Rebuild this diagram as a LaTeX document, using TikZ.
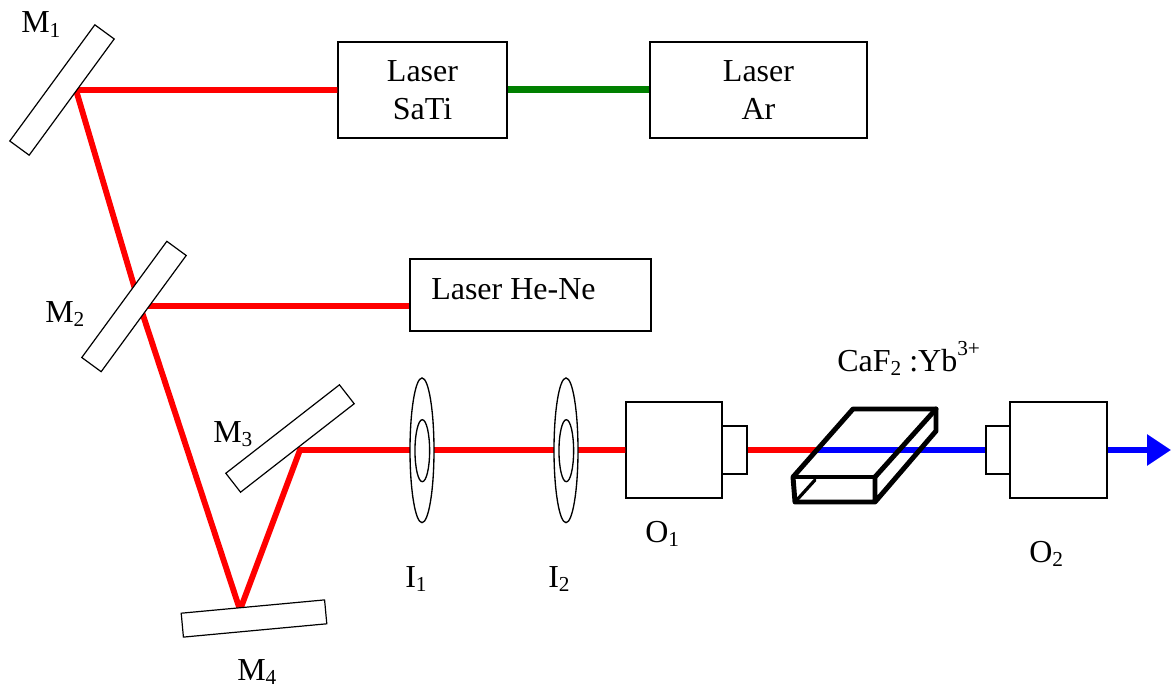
\documentclass[tikz,border=0pt]{standalone}
\usepackage{fontspec}
\setmainfont{Liberation Serif}
\usetikzlibrary{arrows.meta,shapes.geometric}
\newcommand{\lowsub}[1]{\raisebox{-0.13em}{\fontsize{16}{16}\selectfont #1}}
\newcommand{\highsup}[1]{\raisebox{0.5em}{\fontsize{16}{16}\selectfont #1}}
\tikzset{
  x=0.75pt,y=-0.75pt,
  beam/.style={line width=4.4pt},
  redbeam/.style={beam,draw={rgb,255:red,255;green,0;blue,0}},
  bluebeam/.style={beam,draw={rgb,255:red,0;green,0;blue,255}},
  greenbeam/.style={line width=5.25pt,draw={rgb,255:red,0;green,128;blue,0}},
  box/.style={draw=black,fill=white,line width=0.9pt,minimum width=0pt,minimum height=0pt,inner sep=0pt},
  mirror/.style={box,minimum width=108pt,minimum height=18pt},
  lensout/.style={ellipse,draw=black,fill=white,line width=1pt,minimum width=18pt,minimum height=108.5pt,inner sep=0pt},
  lensin/.style={ellipse,draw=black,fill=white,line width=1pt,minimum width=11pt,minimum height=46.5pt,inner sep=0pt},
  lab/.style={anchor=base west,inner sep=0pt,font=\fontsize{24}{24}\selectfont},
  labc/.style={anchor=base,inner sep=0pt,font=\fontsize{24}{24}\selectfont},
  crystal/.style={draw=black,line width=3.7pt,line cap=round,line join=round},
  crystalthin/.style={draw=black,line width=2.4pt,line cap=round}
}
\begin{document}
\begin{tikzpicture}
\useasboundingbox (0,0) rectangle (1171,688);
% reflection points
\coordinate (p1) at (76,90);
\coordinate (p2) at (140,306);
\coordinate (p4) at (240,610);
\coordinate (p3) at (300,450);
\coordinate (cut) at (816,450);
\coordinate (tip) at (1171,450);
% boxes
\node[box,minimum width=126.75pt,minimum height=72pt] (sati) at (422.5,90) {};
\node[box,minimum width=162.75pt,minimum height=72pt] (ar) at (758.5,90) {};
\node[box,minimum width=180.75pt,minimum height=54pt] (hene) at (530.5,295) {};
\node[box,minimum width=72pt,minimum height=72pt] (o1) at (674,450) {};
\node[box,minimum width=18.75pt,minimum height=36pt] (o1f) at (734.5,450) {};
\node[box,minimum width=72.75pt,minimum height=72pt] (o2) at (1058.5,450) {};
\node[box,minimum width=18pt,minimum height=36pt] (o2f) at (998,450) {};
% beams
\draw[greenbeam] (sati.east) -- (ar.west);
\draw[redbeam] (sati.west) -- (p1) -- (p2) -- (p4) -- (p3) -- (o1.west);
\draw[redbeam] (p2 -| hene.west) -- (p2);
\draw[redbeam] (o1f.east) -- (cut);
\draw[bluebeam] (cut) -- (o2f.west);
\draw[bluebeam,-{Triangle[length=18pt,width=22.5pt]}] (o2.east) -- (tip);
% optics on top of the beams
\node[mirror,rotate=53.8] (m1) at (62,90) {};
\node[mirror,rotate=53.8] (m2) at (134,306.5) {};
\node[mirror,rotate=37.9] (m3) at (290,438.5) {};
\node[mirror,rotate=5.3] (m4) at (254,618.5) {};
\node[lensout] (i1) at (422,450.3) {};
\node[lensin] (i1c) at (422.3,450.7) {};
\node[lensout] (i2) at (566,450.3) {};
\node[lensin] (i2c) at (566.3,450.7) {};
% crystal
\coordinate (a) at (793,477);
\coordinate (b) at (875,477);
\coordinate (c) at (875,502);
\coordinate (d) at (795,502);
\coordinate (e) at (853,409);
\coordinate (f) at (936,409);
\coordinate (g) at (936,431);
\coordinate (h) at (815,480);
\draw[crystalthin] (d) -- (h);
\draw[crystalthin] (a) -- (b);
\draw[crystal] (b) -- (c) -- (d) -- (a) -- (e) -- (f) -- (g) -- (c);
\draw[crystal] (b) -- (f);
% labels
\node[lab] (lm1) at (21,33) {M\lowsub{1}};
\node[lab] (lm2) at (45,322) {M\lowsub{2}};
\node[lab] (lm3) at (213,442) {M\lowsub{3}};
\node[lab] (lm4) at (237,680) {M\lowsub{4}};
\node[lab] (li1) at (405,587) {I\lowsub{1}};
\node[lab] (li2) at (548,587) {I\lowsub{2}};
\node[lab] (lo1) at (645,542) {O\lowsub{1}};
\node[lab] (lo2) at (1029,562) {O\lowsub{2}};
\node[lab] (lc) at (837,371) {CaF\lowsub{2} :Yb\highsup{3+}};
\node[labc] (ls1) at (422.5,82) {Laser};
\node[labc] (ls2) at (422.5,120) {SaTi};
\node[labc] (la1) at (758.5,82) {Laser};
\node[labc] (la2) at (758.5,120) {Ar};
\node[lab] (lh) at (431,299) {Laser He-Ne};
\end{tikzpicture}
\end{document}
